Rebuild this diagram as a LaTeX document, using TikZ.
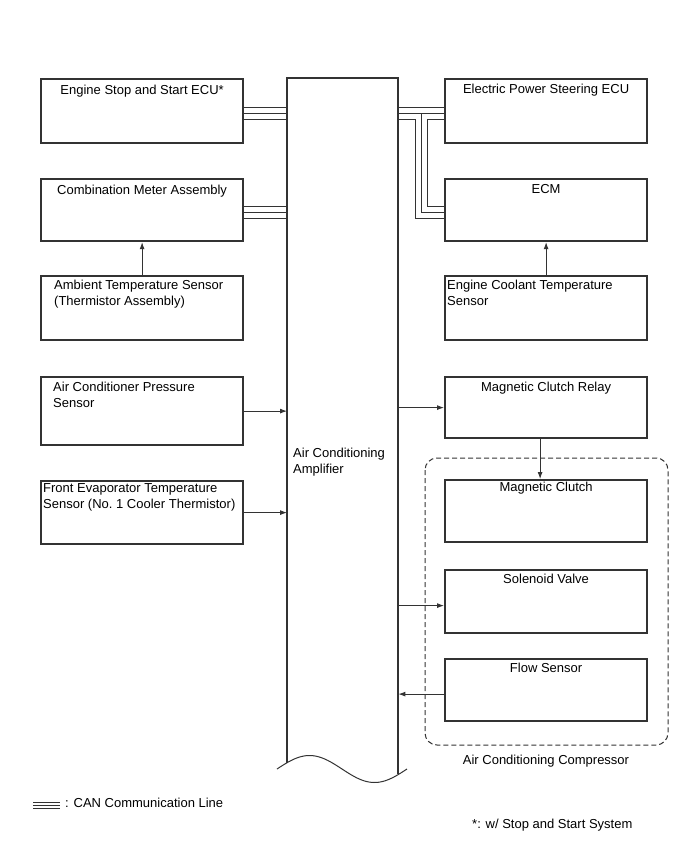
\documentclass[tikz,border=0pt]{standalone}
\usepackage{fontspec}
\setmainfont{Liberation Sans}
\usetikzlibrary{arrows.meta,calc}
\definecolor{ink}{HTML}{333333}

\tikzset{
  unit/.style={draw=ink, line width=2.2pt, minimum width=202pt, anchor=north west, inner sep=0pt},
  txt/.style={font=\fontsize{13}{16}\selectfont, align=left, inner sep=0pt},
  can/.style={draw=ink, line width=1.2pt},
  sig/.style={draw=ink, line width=0.9pt, -{Latex[length=7pt,width=5pt]}},
  wall/.style={draw=ink, line width=2.2pt},
}

\begin{document}
\begin{tikzpicture}[x=1pt, y=-1pt]

\fill[white] (0,0) rectangle (691,854);
\useasboundingbox (0,0) rectangle (691,854);

% units on both sides of the amplifier
\foreach \nm/\x/\y/\h in {
esse/40/78/64,
cmb/40/178/62,
amb/40/275/64,
press/40/376/68,
evap/40/480/63,
eps/444/78/64,
ecm/444/178/62,
cool/444/275/64,
relay/444/376/61,
clutch/444/479/62,
sol/444/569/63,
flow/444/658/62
}{
    \node[unit, minimum height=\h] (\nm) at (\x,\y) {};
}

% amplifier body with torn-off bottom
\node[minimum width=111pt, minimum height=690pt, anchor=north west, inner sep=0pt] (amp) at (287,78) {};
\draw[wall] (287,763.3) |- (398,78) -- (398,774);
\draw[ink, line width=1pt] plot[domain=277:407, samples=60] (\x, {769-13.5*sin((\x-277)/130*360)});

% labels
\node[txt, anchor=north] (esse-t) at ($(esse.north)+(0,7)$) {Engine Stop and Start ECU*};
\node[txt, anchor=north] (cmb-t) at ($(cmb.north)+(0,7)$) {Combination Meter Assembly};
\node[txt, anchor=north west] (amb-t) at ($(amb.north west)+(14,5)$) {Ambient Temperature Sensor\\(Thermistor Assembly)};
\node[txt, anchor=north west] (press-t) at ($(press.north west)+(13,6)$) {Air Conditioner Pressure\\Sensor};
\node[txt, anchor=north west] (evap-t) at ($(evap.north west)+(3,3)$) {Front Evaporator Temperature\\Sensor (No.\ 1 Cooler Thermistor)};
\node[txt, anchor=north] (eps-t) at ($(eps.north)+(0,6)$) {Electric Power Steering ECU};
\node[txt, anchor=north] (ecm-t) at ($(ecm.north)+(0,6)$) {ECM};
\node[txt, anchor=north west] (cool-t) at ($(cool.north west)+(3,5)$) {Engine Coolant Temperature\\Sensor};
\node[txt, anchor=north] (relay-t) at ($(relay.north)+(0,6)$) {Magnetic Clutch Relay};
\node[txt, anchor=north] (clutch-t) at ($(clutch.north)+(0,3)$) {Magnetic Clutch};
\node[txt, anchor=north] (sol-t) at ($(sol.north)+(0,5)$) {Solenoid Valve};
\node[txt, anchor=north] (flow-t) at ($(flow.north)+(0,5)$) {Flow Sensor};
\node[txt, anchor=north west] (amp-t) at ($(amp.north west)+(6,370)$) {Air Conditioning\\Amplifier};

% CAN lines
\foreach \d in {-4,2,8}{
    \draw[can] ($(esse.east)+(0,\d)$) -- ($(esse.east -| amp.west)+(0,\d)$);
    \draw[can] ($(cmb.east)+(0,\d)$) -- ($(cmb.east -| amp.west)+(0,\d)$);
}
\draw[can] ($(eps.west -| amp.east)+(0,-4)$) -- ($(eps.west)+(0,-4)$);
\draw[can] ($(eps.west -| amp.east)+(0,2)$) -- ($(eps.west)+(0,2)$);
\draw[can] ($(eps.west -| amp.east)+(23,2)$) |- ($(ecm.west)+(0,2)$);
\draw[can] ($(eps.west -| amp.east)+(0,8)$) -| ($(ecm.west -| amp.east)+(17,8)$) -- ($(ecm.west)+(0,8)$);
\draw[can] ($(eps.west)+(0,8)$) -| ($(ecm.west -| amp.east)+(29,-4)$) -- ($(ecm.west)+(0,-4)$);

% signal lines
\draw[sig] (amb.north) -- (cmb.south);
\draw[sig] (cool.north) -- (ecm.south);
\draw[sig] (press.east) -- (press.east -| amp.west);
\draw[sig] (evap.east) -- (evap.east -| amp.west);
\draw[sig] (relay.west -| amp.east) -- (relay.west);
\draw[sig] ($(relay.south)+(-6,0)$) -- ($(clutch.north)+(-6,0)$);
\draw[sig] ($(sol.west -| amp.east)+(0,4)$) -- ($(sol.west)+(0,4)$);
\draw[sig] ($(flow.west)+(0,4)$) -- ($(flow.west -| amp.east)+(0,4)$);

% compressor outline
\draw[ink, line width=1pt, dash pattern=on 5pt off 3pt, rounded corners=12pt] (425,458) rectangle (668,745);
\node[txt, anchor=north] (comp-t) at (546,755) {Air Conditioning Compressor};

% legend and note
\foreach \d in {802,805,808}{
    \draw[ink, line width=0.8pt] (33,\d) -- (60,\d);
}
\node[txt, anchor=north west] (can-t) at (65,798) {: CAN Communication Line};
\node[txt, anchor=north west] (note-t) at (472,819) {*: w/ Stop and Start System};

\end{tikzpicture}
\end{document}
